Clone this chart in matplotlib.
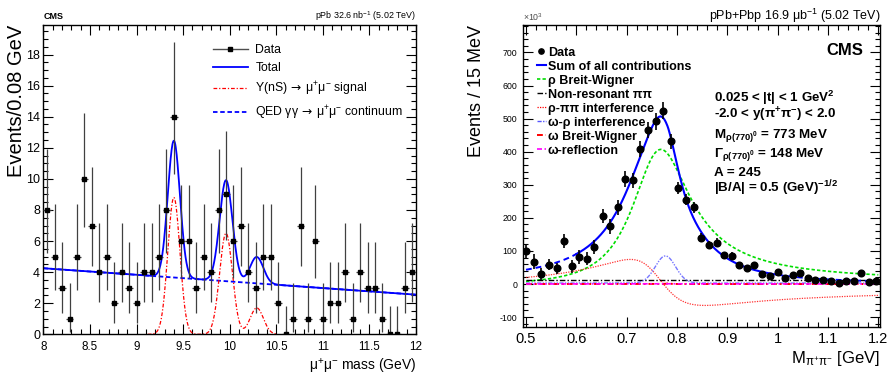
import numpy as np
import matplotlib
matplotlib.use('Agg')
import matplotlib.pyplot as plt
from matplotlib.lines import Line2D
from matplotlib.ticker import MultipleLocator, FuncFormatter

# ---------------- left panel: dimuon mass spectrum, pPb 32.6 nb-1
mass_bins = [8.04, 8.12, 8.20, 8.28, 8.36, 8.44, 8.52, 8.60, 8.68, 8.76,
             8.84, 8.92, 9.00, 9.08, 9.16, 9.24, 9.32, 9.40, 9.48, 9.56,
             9.64, 9.72, 9.80, 9.88, 9.96, 10.04, 10.12, 10.20, 10.28, 10.36,
             10.44, 10.52, 10.60, 10.68, 10.76, 10.84, 10.92, 11.00, 11.08, 11.16,
             11.24, 11.32, 11.40, 11.48, 11.56, 11.64, 11.72, 11.80, 11.88, 11.96]
counts = [8, 5, 3, 1, 5, 10, 7, 4, 5, 2,
          4, 3, 2, 4, 4, 5, 8, 14, 6, 6,
          3, 5, 4, 8, 9, 6, 7, 4, 3, 5,
          5, 2, 0, 1, 7, 1, 6, 1, 2, 2,
          4, 1, 4, 3, 3, 1, 0, 0, 3, 4]
# 68% Poisson intervals (lower / upper error) per observed count
poisson_lo = {0: 0.0, 1: 0.827, 2: 1.292, 3: 1.633, 4: 1.914, 5: 2.160,
              6: 2.380, 7: 2.581, 8: 2.768, 9: 2.943, 10: 3.108, 14: 3.69}
poisson_hi = {0: 1.841, 1: 2.300, 2: 2.638, 3: 2.918, 4: 3.163, 5: 3.382,
              6: 3.584, 7: 3.770, 8: 3.945, 9: 4.110, 10: 4.267, 14: 4.83}
bin_half = 0.04

# fit: linear QED continuum + three Upsilon gaussians
qed_at_8 = 4.25
qed_slope = -0.425
ups_mass = [9.40, 9.96, 10.29]
ups_amp = [8.8, 6.5, 1.7]
ups_sigma = [0.065, 0.069, 0.071]

# ---------------- right panel: pi+pi- mass spectrum, pPb+Pbp 16.9 ub-1
pipi_mass = [0.500, 0.515, 0.530, 0.546, 0.561, 0.576, 0.591, 0.606, 0.621, 0.636,
             0.652, 0.667, 0.682, 0.697, 0.712, 0.727, 0.742, 0.758, 0.773, 0.788,
             0.803, 0.818, 0.833, 0.848, 0.863, 0.879, 0.894, 0.909, 0.924, 0.939,
             0.954, 0.969, 0.985, 1.000, 1.015, 1.030, 1.045, 1.060, 1.075, 1.091,
             1.106, 1.121, 1.136, 1.151, 1.166, 1.181, 1.196]
pipi_events = [100, 68, 29, 59, 47, 130, 54, 82, 77, 112,
               206, 174, 232, 318, 313, 409, 465, 492, 524, 431,
               290, 255, 232, 140, 118, 125, 87, 85, 58, 49,
               58, 31, 23, 36, 19, 28, 34, 17, 12, 11,
               10, 4, 8, 10, 32, 7, 10]
pipi_err = [22, 22, 18, 18, 18, 20, 20, 20, 20, 20,
            22, 22, 22, 24, 24, 24, 24, 25, 25, 22,
            18, 17, 16, 14, 13, 13, 11, 11, 10, 10,
            10, 9, 9, 9, 8, 8, 8, 8, 8, 8,
            8, 8, 8, 8, 10, 8, 8]

# Soding-type fit components
rho_mass = 0.773
rho_width = 0.148
pion_mass = 0.1396
rho_peak = 405.0
nonres_level = 12.0
omrho_base, omrho_peak, omrho_pos, omrho_sigma = 3.0, 82.0, 0.777, 0.02
omega_mass, omega_width, omega_amp = 0.7827, 0.0085, 2.0
refl_amp, refl_pos, refl_sigma = 0.8, 0.75, 0.1

plt.rcParams['font.family'] = ['Liberation Sans', 'DejaVu Sans']
plt.rcParams['mathtext.default'] = 'regular'
plt.rcParams['axes.unicode_minus'] = False

fig = plt.figure(figsize=(8.91, 3.78), dpi=100)
axL = fig.add_axes([0.04882, 0.11561, 0.41807, 0.81825])
axR = fig.add_axes([0.58754, 0.13571, 0.40011, 0.79815])

fmt = FuncFormatter(lambda v, p: '%g' % v)


def style(ax, xmaj, xmin, ymaj, ymin):
    ax.xaxis.set_major_locator(MultipleLocator(xmaj))
    ax.xaxis.set_minor_locator(MultipleLocator(xmin))
    ax.yaxis.set_major_locator(MultipleLocator(ymaj))
    ax.yaxis.set_minor_locator(MultipleLocator(ymin))
    ax.xaxis.set_major_formatter(fmt)
    ax.yaxis.set_major_formatter(fmt)
    ax.tick_params(which='both', direction='in', top=True, right=True, width=0.8)
    ax.tick_params(which='major', length=7)
    ax.tick_params(which='minor', length=3.6)
    for s in ax.spines.values():
        s.set_linewidth(1.0)


# ================= left panel
m = np.linspace(8, 12, 801)
qed = qed_at_8 + qed_slope * (m - 8)
signal = np.zeros_like(m)
for mu, a, s in zip(ups_mass, ups_amp, ups_sigma):
    signal += a * np.exp(-0.5 * ((m - mu) / s) ** 2)
total = qed + signal
sig_range = (m >= 9.12) & (m <= 10.5)

axL.plot(m, qed, color='blue', lw=1.3, dashes=(2.5, 1.5))
axL.plot(m[sig_range], signal[sig_range], color='red', lw=0.9, dashes=(3, 1.5, 1, 1.5))
axL.plot(m, total, color='blue', lw=1.3)
ylo = [poisson_lo[c] for c in counts]
yhi = [poisson_hi[c] for c in counts]
axL.errorbar(mass_bins, counts, xerr=bin_half, yerr=[ylo, yhi], fmt='s', ms=3.3,
             color='k', ecolor='0.25', elinewidth=0.9, capsize=0, zorder=5)

axL.set_xlim(8, 12)
axL.set_ylim(0, 19.9)
style(axL, 0.5, 0.1, 2, 0.5)
axL.tick_params(axis='x', labelsize=8.4, pad=5)
axL.tick_params(axis='y', labelsize=9, pad=2.5)
axL.set_ylabel('Events/0.08 GeV', fontsize=14.5, loc='top')
axL.yaxis.set_label_coords(-0.046, 1.0)
axL.set_xlabel(r'$\mu^{+}\mu^{-}$ mass (GeV)', fontsize=10, loc='right')
axL.xaxis.set_label_coords(1.0, -0.072)
axL.text(0.0, 1.012, 'CMS', transform=axL.transAxes, fontsize=6.5,
         weight='bold', ha='left', va='bottom')
axL.text(1.0, 1.008, r'pPb 32.6 nb$^{-1}$ (5.02 TeV)', transform=axL.transAxes,
         fontsize=6.4, ha='right', va='bottom')

hL = [Line2D([], [], color='0.3', lw=1, marker='s', ms=3.5, mfc='k', mec='k'),
      Line2D([], [], color='blue', lw=1.3),
      Line2D([], [], color='red', lw=0.9, dashes=(3, 1.5, 1, 1.5)),
      Line2D([], [], color='blue', lw=1.3, dashes=(2.5, 1.5))]
labL = ['Data', 'Total',
        r'$\Upsilon$(nS)$\,\mathsf{\rightarrow}\,\mu^{+}\mu^{-}$ signal',
        r'QED $\gamma\gamma\,\mathsf{\rightarrow}\,\mu^{+}\mu^{-}$ continuum']
axL.legend(hL, labL, loc='upper left', bbox_to_anchor=(0.454, 0.937), frameon=False,
           prop={'size': 8.8}, handlelength=2.9, handletextpad=0.6,
           labelspacing=0.48, borderpad=0, borderaxespad=0)

# ================= right panel
x = np.linspace(0.5, 1.2, 701)
q = np.sqrt(x ** 2 / 4 - pion_mass ** 2)
q0 = np.sqrt(rho_mass ** 2 / 4 - pion_mass ** 2)
gam = rho_width * (q / q0) ** 3 * rho_mass / x
amp = np.sqrt(x * rho_mass * gam) / (x ** 2 - rho_mass ** 2 + 1j * rho_mass * gam)
a_coef = np.sqrt(rho_peak * rho_width)
b_coef = -np.sqrt(nonres_level)
rho_bw = a_coef ** 2 * np.abs(amp) ** 2
nonres = np.full_like(x, b_coef ** 2)
interf = 2 * a_coef * b_coef * amp.real
omrho = omrho_base + omrho_peak * np.exp(-0.5 * ((x - omrho_pos) / omrho_sigma) ** 2)
omega_bw = omega_amp * (omega_width / 2) ** 2 / ((x - omega_mass) ** 2 + (omega_width / 2) ** 2)
refl = refl_amp * np.exp(-0.5 * ((x - refl_pos) / refl_sigma) ** 2)
fit_total = rho_bw + nonres + interf + omrho + omega_bw + refl

axR.plot(x, rho_bw, color='#00dd00', lw=1.2, dashes=(2, 1.3))
axR.plot(x, nonres, color='k', lw=1.0, dashes=(4, 1.5, 1, 1.5))
axR.plot(x, interf, color='red', lw=0.9, dashes=(1, 1), alpha=0.8)
axR.plot(x, omrho, color='#5555ff', lw=1.0, dashes=(3, 1, 1, 1, 1, 1), alpha=0.8)
axR.plot(x, omega_bw, color='red', lw=1.4, dashes=(3, 1.5, 1, 1.5))
axR.plot(x, refl, color='magenta', lw=1.2, dashes=(3, 1.5, 1, 1.5))
in_fit = (x >= 0.6) & (x <= 1.0)
axR.plot(np.where(x <= 0.6, x, np.nan), fit_total, color='blue', lw=1.4, dashes=(3, 2))
axR.plot(np.where(x >= 1.0, x, np.nan), fit_total, color='blue', lw=1.4, dashes=(3, 2))
axR.plot(x[in_fit], fit_total[in_fit], color='blue', lw=1.5)
axR.errorbar(pipi_mass, pipi_events, yerr=pipi_err, fmt='o', ms=4.8, color='k',
             elinewidth=1.2, capsize=0, zorder=5)

axR.set_xlim(0.495, 1.2034)
axR.set_ylim(-129, 783)
style(axR, 0.1, 0.02, 100, 20)
axR.tick_params(axis='x', labelsize=10.5, pad=3.6)
axR.tick_params(axis='y', labelsize=6.3, pad=4.5)
axR.set_ylabel('Events / 15 MeV', fontsize=13, loc='top')
axR.yaxis.set_label_coords(-0.108, 1.0)
axR.set_xlabel(r'M$_{\pi^{+}\pi^{-}}$ [GeV]', fontsize=12, loc='right')
axR.xaxis.set_label_coords(1.0, -0.074)
axR.text(0.0, 1.006, r'$\times$10$^{3}$', transform=axR.transAxes, fontsize=6.3,
         color='0.3', ha='left', va='bottom')
axR.text(1.0, 1.0166, r'pPb+Pbp 16.9 $\mu$b$^{-1}$ (5.02 TeV)', transform=axR.transAxes,
         fontsize=9, ha='right', va='baseline')
axR.text(0.952, 0.9006, 'CMS', transform=axR.transAxes, fontsize=12, weight='bold',
         ha='right', va='baseline')

info_lines = ['0.025 < |t| < 1 GeV$^{2}$',
              r'-2.0 < y($\pi^{+}\pi^{-}$) < 2.0',
              r'M$_{\rho(770)^{0}}$ = 773 MeV',
              r'$\Gamma_{\rho(770)^{0}}$ = 148 MeV',
              'A = 245',
              '|B/A| = 0.5 (GeV)$^{-1/2}$']
info_y = [0.7458, 0.6884, 0.6245, 0.5636, 0.4997, 0.4443]
for txt, yy in zip(info_lines, info_y):
    axR.text(0.535, yy, txt, transform=axR.transAxes, fontsize=9.6, weight='bold',
             ha='left', va='baseline')

hR = [Line2D([], [], ls='none', marker='o', ms=3.8, color='k'),
      Line2D([], [], color='blue', lw=1.5),
      Line2D([], [], color='#00dd00', lw=1.2, dashes=(2, 1.3)),
      Line2D([], [], color='k', lw=1.0, dashes=(4, 1.5, 1, 1.5)),
      Line2D([], [], color='red', lw=0.9, dashes=(1, 1)),
      Line2D([], [], color='#5555ff', lw=1.0, dashes=(3, 1, 1, 1, 1, 1)),
      Line2D([], [], color='red', lw=1.4, dashes=(3, 1.5, 1, 1.5)),
      Line2D([], [], color='magenta', lw=1.2, dashes=(3, 1.5, 1, 1.5))]
labR = ['Data', 'Sum of all contributions', 'ρ Breit-Wigner', 'Non-resonant ππ',
        'ρ-ππ interference', 'ω-ρ interference', 'ω Breit-Wigner', 'ω-reflection']
axR.legend(hR, labR, loc='upper left', bbox_to_anchor=(0.038, 0.928), frameon=False,
           prop={'weight': 'bold', 'size': 9}, handlelength=0.7, handletextpad=0.15,
           labelspacing=0.16, borderpad=0, borderaxespad=0)

fig.savefig('out.png', dpi=100)
